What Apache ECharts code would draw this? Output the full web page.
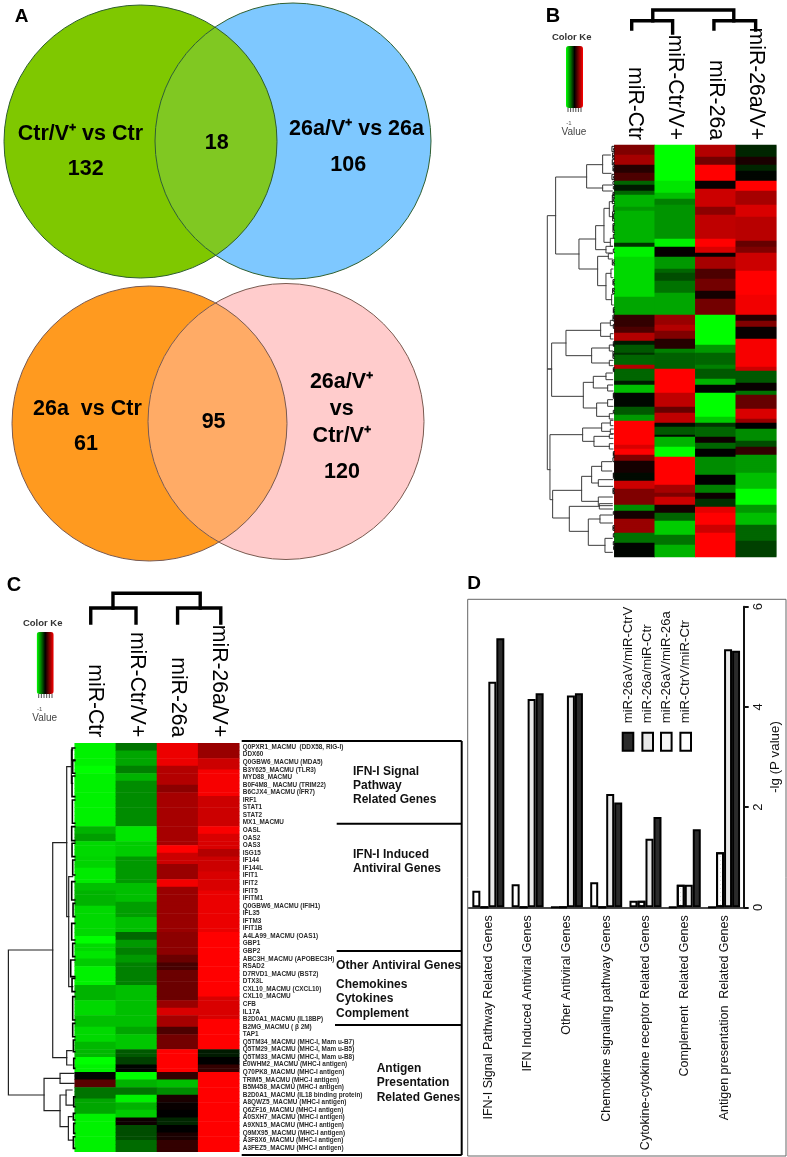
<!DOCTYPE html>
<html>
<head>
<meta charset="utf-8">
<style>html,body{margin:0;padding:0;background:#fff}#c{width:787px;height:1157px}</style>
<script src="https://cdn.jsdelivr.net/npm/echarts@6/dist/echarts.min.js"></script>
</head>
<body>
<div id="c"></div>
<script>
// ---------- DATA ----------
const sampleNames = ['miR-Ctr', 'miR-Ctr/V+', 'miR-26a', 'miR-26a/V+'];
const vennTop = {a: 'Ctr/V⁺ vs Ctr', aOnly: 132, both: 18, b: '26a/V⁺ vs 26a', bOnly: 106};
const vennBottom = {a: '26a  vs Ctr', aOnly: 61, both: 95, b: ['26a/V⁺', 'vs', 'Ctr/V⁺'], bOnly: 120};

// Panel B heat map: run lengths [rows, value] per column (value -1 green .. 0 black .. 1 red)
const heatBCtr = [5,.5,5,.65,4,.15,4,.3,2,-.4,3,-.1,2,-.4,6,-.7,2,-.6,16,-.7,2,-.2,5,-.95,20,-.85,9,-.65,
  6,.2,3,.3,4,.7,2,-.1,4,-.35,1,-.2,5,-.4,2,.7,6,-.4,2,-.1,4,-.75,7,-.03,4,-.35,3,-.6,12,1,2,.85,3,1,
  3,.5,6,.08,4,-.04,4,.8,8,.5,3,-.55,4,.08,7,.6,5,-.45,7,-.02];
const heatBCtrV = [18,-1,6,-.9,3,-.75,3,-.5,17,-.58,4,-.95,5,.02,6,-.6,2,-.4,4,-.3,6,-.45,11,-.65,
  5,.6,3,.7,4,.5,5,.15,2,-.5,8,-.38,12,1,7,.75,3,.4,5,.75,2,-.05,4,-.35,1,-.05,5,-.7,5,-1,14,1,
  4,.65,2,.5,4,.8,4,.08,4,-.4,7,-.8,5,-.45,6,-.7];
const heatB26a = [6,.7,4,.45,8,1,4,.03,9,.8,4,.55,12,.75,4,1,3,.85,2,.02,6,.65,5,.3,6,.45,4,.08,8,.45,
  15,-1,4,-.6,6,-.4,2,-.5,5,-.35,3,-.7,4,-.02,12,-1,3,-.8,2,-.2,5,-.4,3,.05,3,-.4,4,0,9,-.55,5,0,
  4,-.5,3,.05,4,-.2,3,.9,6,1,4,.8,12,1];
const heatB26aV = [6,-.15,4,.1,3,-.15,5,-.02,5,1,7,.65,6,.85,12,.72,3,.4,3,.5,9,.8,12,1,10,.95,
  3,.15,3,.5,6,.03,14,.97,2,.8,6,-.35,4,.03,2,-.45,7,.4,5,.85,2,.6,3,0,6,-.55,3,-.3,4,.2,9,-.6,
  8,-.75,8,-1,4,-.6,6,-.75,8,-.4,8,-.25];

// Panel C heat map: run lengths [half gene rows, value]
const heatCCtr = [6,-.95,2,-1,14,-.95,2,-.7,2,-.62,4,-.85,3,-.83,4,-.92,2,-.75,4,-.7,8,-.85,2,-1,2,-.85,2,-.9,2,-.8,
  5,-.95,4,-.7,4,-.85,3,-.75,4,-.85,4,-.72,2,-1,2,-.95,2,-.02,2,.35,3,-.45,4,-.65,10,-.95];
const heatCCtrV = [2,-.45,4,-.65,2,-.5,2,-.7,12,-.55,4,-.9,4,-.8,7,-.6,5,-.75,4,-.62,4,-.75,2,-.4,2,-.6,2,-.5,2,-.6,
  6,-.5,11,-.75,2,-.65,4,-.78,2,-.35,2,-.25,2,-.02,2,-1,2,-.7,2,-.45,2,-.95,2,-.7,2,-.8,2,.05,4,-.3,3,-.42];
const heatC26a = [6,.93,5,.7,2,.55,14,.65,2,1,3,.8,4,.6,2,.95,12,.6,6,.55,2,.42,2,.28,8,.42,2,.6,2,.85,3,.65,2,.3,4,.45,
  6,1,2,.2,2,-.75,2,-.55,2,.1,2,.03,2,0,2,-.15,2,0,2,.1,3,.2];
const heatC26aV = [4,.6,3,.8,7,.97,8,.8,2,.98,4,.85,2,.7,4,.8,3,.85,2,.85,11,.92,17,1,6,.85,8,1,2,-.1,2,0,2,.2,21,1];

const geneNames = ['Q0PXR1_MACMU  (DDX58, RIG-I)','DDX60','Q0GBW6_MACMU (MDA5)','B3Y625_MACMU (TLR3)','MYD88_MACMU',
  'B0F4M8_ MACMU (TRIM22)','B6CJX4_MACMU (IFR7)','IRF1','STAT1','STAT2','MX1_MACMU','OASL','OAS2','OAS3','ISG15','IF144','IF144L',
  'IFIT1','IFIT2','IFIT5','IFITM1','Q0GBW6_MACMU (IFIH1)','IFL35','IFTM3','IFIT1B','A4LA99_MACMU (OAS1)','GBP1','GBP2',
  'ABC3H_MACMU (APOBEC3H)','RSAD2','D7RVD1_MACMU (BST2)','DTX3L','CXL10_MACMU (CXCL10)','CXL10_MACMU','CFB','IL17A',
  'B2D0A1_MACMU (IL18BP)','B2MG_MACMU ( β 2M)','TAP1','Q5TM34_MACMU (MHC-I, Mam u-B7)','Q5TM29_MACMU (MHC-I, Mam u-B5)',
  'Q5TM33_MACMU (MHC-I, Mam u-B8)','E0WHM2_MACMU (MHC-I antigen)','Q70PK8_MACMU (MHC-I antigen)','TRIM5_MACMU (MHC-I antigen)',
  'B5M458_MACMU (MHC-I antigen)','B2D0A1_MACMU (IL18 binding protein)','A8QWZ5_MACMU (MHC-I antigen)','Q6ZF16_MACMU (MHC-I antigen)',
  'A0SXH7_MACMU (MHC-I antigen)','A9XN15_MACMU (MHC-I antigen)','Q9MX95_MACMU (MHC-I antigen)','A3F8X6_MACMU (MHC-I antigen)',
  'A3FEZ5_MACMU (MHC-I antigen)'];

// Dendrogram merges: [height, leafA, heightA, leafB, heightB]
const treeB = [[201,212,176,974,193],[201,672,188,672,188],[176,96,83,327,106],[83,59,35,129,35],[35,30,12,85,10],[35,120,6,138,6],
  [106,282,56,372,50],[56,242,31,314,25],[31,190,15,292,12],[25,304,6,324,6],[15,170,5,215,6],[12,280,4,304,5],[50,334,18,422,25],
  [18,326,5,342,6],[25,385,10,464,8],[10,372,4,398,4],[8,448,3,480,3],[188,594,145,754,93],[145,556,41,632,68],[41,534,12,574,12],
  [12,526,4,542,4],[12,566,4,582,4],[68,609,15,654,15],[15,600,5,618,5],[15,646,4,662,4],[93,712,63,789,53],[63,694,25,729,20],
  [25,684,6,704,5],[20,720,5,738,4],[53,774,20,814,15],[20,764,5,784,4],[15,806,4,822,4],[193,869,95,1064,185],[95,849,38,889,61],
  [38,834,12,859,12],[12,826,4,842,4],[12,852,3,866,3],[61,874,15,904,15],[15,868,4,880,4],[15,896,4,912,4],[185,1036,98,1119,135],
  [98,994,68,1069,48],[68,964,38,1014,48],[38,950,8,978,8],[48,1004,5,1024,5],[48,1056,6,1082,6],[135,1084,45,1159,78],
  [45,1076,6,1092,6],[78,1122,43,1201,28],[43,1110,6,1134,6],[28,1180,6,1222,6]];
const tuftsB = [[7,4,20],[5,24,40],[6,44,60],[4,64,78],[7,88,104],[4,110,118],[3,124,132],[4,142,158],[6,150,176],[3,182,198],[5,200,228],
  [4,236,262],[3,268,280],[3,312,322],[6,345,360],[4,404,420],[5,430,445],[3,488,504],[4,510,528],[3,538,550],[3,590,604],[4,620,640],
  [3,668,680],[3,744,760],[3,796,804],[3,920,934],[4,938,950],[3,984,1000],[4,1030,1046],[3,1100,1108],[4,1142,1156],[3,1166,1176],[3,1190,1200],
  [2,10,16],[2,30,36],[2,52,58],[2,70,76],[2,94,100],[2,146,152],[2,160,170],[2,206,222],[2,240,256],[2,350,356],[2,408,416],[2,434,440],
  [2,494,500],[2,514,522],[2,596,602],[2,626,634],[2,672,676],[2,748,756],[2,924,930],[2,986,996],[2,1034,1042],[2,1146,1152],[2,1204,1214]];
const treeC = [[199,620,66,1055,92],[66,298,24,943,24],[24,70,10,520,18],[18,400,6,730,6],[24,922,8,965,8],[92,1005,44,1102,44],
  [44,990,2,1020,2],[44,1055,26,1150,19],[26,1040,8,1085,4],[19,1120,8,1190,6],[10,20,6,120,6]];
const tuftsC = [[8,14,50],[6,52,90],[8,98,160],[7,170,240],[9,250,292],[8,300,340],[6,350,395],[9,415,470],[5,480,520],[9,540,590],
  [6,600,640],[12,650,700],[8,705,745],[6,760,830],[6,840,880],[4,890,925],[3,945,975],[3,1060,1090],[4,1110,1130],[3,1140,1170],[4,1180,1215]];
// Sample-tree merges: [height, colA, heightA, colB, heightB]
const topTreeB = [[25,.95,14.3,2.95,14.3],[14.3,.43,6,1.44,2],[14.3,2.46,6,3.49,5]];
const topTreeC = [[31.7,.93,17,3.05,17],[17,.39,2,1.49,2],[17,2.5,2,3.55,2]];

// Panel D
const pathwayNames = ['IFN-I Signal Pathway Related Genes','IFN Induced Antiviral Genes','Other Antiviral Genes','Chemokine signaling pathway Genes',
  'Cytokine-cytokine receptor Related Genes','Complement  Related Genes','Antigen presentation  Related Genes'];
const seriesCtrV = [.33,.46,0,.5,.13,0,0];
const series26aV26a = [0,0,0,0,.13,.45,1.1];
const series26aCtr = [4.5,4.16,4.23,2.26,1.37,.45,5.15];
const series26aVCtrV = [5.37,4.27,4.27,2.09,1.8,1.56,5.12];
const valueTicks = {min: 0, max: 6, step: 2};
const comparisonNames = ['miR-26aV/miR-CtrV','miR-26a/miR-Ctr','miR-26aV/miR-26a','miR-CtrV/miR-Ctr'];

// ---------- BUILD ----------
const FONT = '"Liberation Sans", Arial, sans-serif';
function expand(runs){const o=[];for(let i=0;i<runs.length;i+=2)for(let k=0;k<runs[i];k++)o.push(runs[i+1]);return o;}
function cells(cols,n){const d=[];cols.forEach((c,x)=>{const v=expand(c);for(let r=0;r<n;r++)d.push([x,r,v[Math.min(r,v.length-1)]]);});return d;}
function idx(n){return Array.from({length:n},(_,i)=>String(i));}
function brackets(list){
  return list.map(m=>({coords:[[m[2],m[1]],[m[0],m[1]],[m[0],m[3]],[m[4],m[3]]]}));
}
function tuftLines(tufts){
  return tufts.map(m=>({coords:[[0,m[1]],[m[0],m[1]],[m[0],m[2]],[0,m[2]]]}));
}
function topBrackets(list){
  return list.map(m=>({coords:[[m[1],m[2]],[m[1],m[0]],[m[3],m[0]],[m[3],m[4]]]}));
}
const hiddenValue=(o)=>Object.assign({type:'value',show:false,scale:false,splitLine:{show:false}},o);

// layout boxes
const BOX_B={left:614.3,top:145,width:162,height:412};
const BOX_C={left:74.7,top:743.3,width:164.6,height:408.4};
const grids=[
  {left:0,top:0,width:787,height:1157},                // 0 venn
  BOX_B,                                               // 1
  {left:BOX_B.left-80,top:BOX_B.top,width:80,height:BOX_B.height}, // 2
  {left:BOX_B.left,top:5,width:BOX_B.width,height:30}, // 3
  BOX_C,                                               // 4
  {left:BOX_C.left-73.3,top:BOX_C.top,width:73.3,height:BOX_C.height}, // 5
  {left:BOX_C.left,top:585,width:BOX_C.width,height:40}, // 6
  BOX_C,                                               // 7 gene labels
  {left:468.7,top:606.7,width:275,height:300.6}        // 8 bars
];
const colAxis=(g,margin,size)=>({type:'category',gridIndex:g,position:'top',data:sampleNames,axisLine:{show:false},axisTick:{show:false},
  axisLabel:{rotate:90,fontSize:size,fontFamily:FONT,color:'#000',margin:margin,interval:0}});
const xAxes=[
  hiddenValue({gridIndex:0,min:0,max:787}),
  colAxis(1,5,21.2),
  hiddenValue({gridIndex:2,min:0,max:240,inverse:true}),
  hiddenValue({gridIndex:3,min:0,max:4}),
  colAxis(4,6,21.2),
  hiddenValue({gridIndex:5,min:0,max:220,inverse:true}),
  hiddenValue({gridIndex:6,min:0,max:4}),
  hiddenValue({gridIndex:7,min:0,max:1}),
  {type:'category',gridIndex:8,data:pathwayNames,axisLine:{lineStyle:{color:'#111',width:1.5}},
   axisTick:{alignWithLabel:true,length:6,lineStyle:{color:'#111',width:2}},
   axisLabel:{rotate:90,interval:0,fontSize:12.5,fontFamily:FONT,color:'#111',margin:8}}
];
const rowAxis=(g,n)=>({type:'category',gridIndex:g,show:false,inverse:true,data:idx(n)});
const yAxes=[
  hiddenValue({gridIndex:0,min:0,max:1157,inverse:true}),
  rowAxis(1,206),
  hiddenValue({gridIndex:2,min:0,max:1236,inverse:true}),
  hiddenValue({gridIndex:3,min:0,max:30}),
  rowAxis(4,108),
  hiddenValue({gridIndex:5,min:0,max:1225,inverse:true}),
  hiddenValue({gridIndex:6,min:0,max:40}),
  {type:'category',gridIndex:7,position:'right',inverse:true,data:geneNames,axisLine:{show:false},axisTick:{show:false},
   axisLabel:{interval:0,fontSize:6.4,fontWeight:'bold',fontFamily:FONT,color:'#2b2b2b',margin:3.5,hideOverlap:false}},
  {type:'value',gridIndex:8,position:'right',min:valueTicks.min,max:valueTicks.max,interval:valueTicks.step,splitLine:{show:false},
   axisLine:{show:true,lineStyle:{color:'#111',width:2}},axisTick:{show:true,length:5,lineStyle:{color:'#111',width:2}},
   axisLabel:{rotate:90,fontSize:13,fontFamily:FONT,color:'#111',margin:8},
   name:'-lg (P value)',nameLocation:'middle',nameRotate:90,nameGap:25,nameTextStyle:{fontSize:13.3,fontFamily:FONT,color:'#111'}}
];

const vennGeom=[
  {a:[140.5,141.5,136.5],b:[293,141,138],ca:'#7fc800',cb:'#7ec8ff',lens:'#80c822',stroke:'#2f5f30'},
  {a:[149.5,423.5,137.5],b:[286,421.5,138],ca:'#ff9a1f',cb:'#ffcccc',lens:'#ffab66',stroke:'#7a5a50'}
];
function lensPoints(a,b){
  const dx=b[0]-a[0],dy=b[1]-a[1],d=Math.hypot(dx,dy),base=Math.atan2(dy,dx);
  const pa=Math.acos((d*d+a[2]*a[2]-b[2]*b[2])/(2*d*a[2]));
  const pb=Math.acos((d*d+b[2]*b[2]-a[2]*a[2])/(2*d*b[2]));
  const pts=[];
  for(let i=0;i<=60;i++){const t=base-pa+2*pa*i/60;pts.push([a[0]+a[2]*Math.cos(t),a[1]+a[2]*Math.sin(t)]);}
  for(let i=0;i<=60;i++){const t=base+Math.PI-pb+2*pb*i/60;pts.push([b[0]+b[2]*Math.cos(t),b[1]+b[2]*Math.sin(t)]);}
  return pts;
}
const vennSeries={type:'custom',xAxisIndex:0,yAxisIndex:0,silent:true,clip:false,z:1,
  data:vennGeom.map((g,i)=>[g.a[0],g.a[1],i]),encode:{x:0,y:1},
  renderItem(params,api){
    const g=vennGeom[api.value(2)];
    const circ=(c,fill,stroke)=>{const p=api.coord([c[0],c[1]]);return {type:'circle',silent:true,
      shape:{cx:p[0],cy:p[1],r:api.size([c[2],c[2]])[0]},style:{fill:fill,stroke:stroke,lineWidth:stroke==='none'?0:1}};};
    return {type:'group',children:[
      circ(g.a,g.ca,'none'),circ(g.b,g.cb,'none'),
      {type:'polygon',silent:true,shape:{points:lensPoints(g.a,g.b).map(p=>api.coord(p))},style:{fill:g.lens}},
      circ(g.a,'rgba(0,0,0,0)',g.stroke),circ(g.b,'rgba(0,0,0,0)',g.stroke)
    ]};
  }};
const heat=(g,cols,n)=>({type:'heatmap',xAxisIndex:g,yAxisIndex:g,data:cells(cols,n),silent:true,progressive:0,emphasis:{disabled:true},itemStyle:{borderWidth:0}});
const treeLines=(g,data,color,width)=>({type:'lines',coordinateSystem:'cartesian2d',xAxisIndex:g,yAxisIndex:g,polyline:true,silent:true,
  data:data,lineStyle:{color:color,width:width,opacity:1,cap:'square',join:'miter'},effect:{show:false}});

const barSeries=[
  {name:comparisonNames[3],data:seriesCtrV,itemStyle:{color:'#ffffff'}},
  {name:comparisonNames[2],data:series26aV26a,itemStyle:{color:'#ffffff',decal:{symbol:'rect',symbolSize:.5,dashArrayX:[1,3],dashArrayY:[1,3],color:'#777',rotation:0}}},
  {name:comparisonNames[1],data:series26aCtr,itemStyle:{color:'#e9e9e9'}},
  {name:comparisonNames[0],data:series26aVCtrV,itemStyle:{color:'#2b2b2b'}}
].map(s=>{s.type='bar';s.xAxisIndex=8;s.yAxisIndex=8;s.barWidth=8;s.barGap=0;s.silent=true;s.itemStyle.borderColor='#000';s.itemStyle.borderWidth=2;return s;});

// text and decoration
const T=(text,x,y,size,opt)=>Object.assign({type:'text',z:100,x:x,y:y,silent:true,style:Object.assign({text:text,font:(opt&&opt.weight||'bold')+' '+size+'px '+FONT,
  fill:(opt&&opt.fill)||'#000',align:(opt&&opt.align)||'center',verticalAlign:'middle',textAlign:(opt&&opt.align)||'center',textVerticalAlign:'middle'})},opt&&opt.rot?{rotation:opt.rot}:{});
const L=(x1,y1,x2,y2,w,c)=>({type:'line',z:100,silent:true,shape:{x1,y1,x2,y2},style:{stroke:c||'#000',lineWidth:w}});
const ANN={align:'left',fill:'#111'};
const keyDeco=(cx,kx0,kx1,y)=>{
  const out=[T('Color Ke',cx,y-9,9.5,{fill:'#333'}),T('-1',kx0+3,y+77,6,{fill:'#555',weight:'normal'}),T('Value',kx0+8,y+86,10,{fill:'#444',weight:'normal'})];
  for(let i=0;i<6;i++){const x=kx0+2+i*(kx1-kx0-4)/5;out.push(L(x,y+62,x,y+66,.8,'#222'));}
  return out;
};
const graphics=[
  T('A',21.5,17,19),T('B',553,16,20),T('C',14,585,20),T('D',474,584,19),
  T(vennTop.a,80.4,133.7,21.5),T(String(vennTop.aOnly),85.7,169,21.5),T(String(vennTop.both),216.7,142.9,21.5),
  T(vennTop.b,356.5,129.3,21.5),T(String(vennTop.bOnly),348.3,164.6,21.5),
  T(vennBottom.a,87.4,408.8,21.5),T(String(vennBottom.aOnly),86,443.8,21.5),T(String(vennBottom.both),213.6,422,21.5),
  T(vennBottom.b[0],341.5,382,21.5),T(vennBottom.b[1],341.8,409.5,21.5),T(vennBottom.b[2],341.8,435.7,21.5),T(String(vennBottom.bOnly),342,472,21.5),
  // panel C bracket box
  L(241.7,741,461.7,741,2),L(461.7,741,461.7,1155,2),L(241.7,1155,461.7,1155,2),
  L(336.7,823.7,461.7,823.7,2),L(336.7,951,461.7,951,2),L(335,1025,461.7,1025,2),
  T('IFN-I Signal',353,771.7,12,ANN),T('Pathway',353,785.7,12,ANN),T('Related Genes',353,800,12,ANN),
  T('IFN-I Induced',353,855,12,ANN),T('Antiviral Genes',353,869,12,ANN),
  T('Other Antiviral Genes',336,965.7,12.2,ANN),T('Chemokines',336,984.3,12,ANN),T('Cytokines',336,999,12,ANN),T('Complement',336,1013.3,12,ANN),
  T('Antigen',376.7,1068.3,12,ANN),T('Presentation',376.7,1082.7,12,ANN),T('Related Genes',376.7,1097.3,12,ANN),
  // panel D frame
  {type:'rect',silent:true,z:-1,shape:{x:467.7,y:599.3,width:318.3,height:556.7},style:{fill:'none',stroke:'#666',lineWidth:1}},
  ...keyDeco(571.7,566,583,46),...keyDeco(42.7,36.7,54,632)
];
// Panel D legend (rotated, drawn from the series list)
const legendX=[628,647.7,666.3,685.7];
comparisonNames.forEach((n,i)=>{
  const s=barSeries[3-i];
  graphics.push({type:'rect',z:100,silent:true,shape:{x:legendX[i]-5.3,y:732.7,width:10.6,height:18},
    style:{fill:i===2?'#f6f6f6':s.itemStyle.color,stroke:'#000',lineWidth:2}});
  graphics.push({type:'text',z:100,x:legendX[i],y:723.3,rotation:Math.PI/2,silent:true,
    style:{text:n,font:'13.2px '+FONT,fill:'#111',align:'left',verticalAlign:'middle',textAlign:'left',textVerticalAlign:'middle'}});
});

const keyColors=['#00ff00','#000000','#ff0000'];
const vmBase={type:'continuous',min:-1,max:1,orient:'horizontal',calculable:false,text:null,padding:0,showLabel:false,
  itemWidth:62,itemHeight:17,inRange:{color:keyColors},dimension:2,silent:true,hoverLink:false,realtime:false,
  textStyle:{fontSize:0}};

const option={
  animation:false,backgroundColor:'#fff',tooltip:{show:false},
  grid:grids,xAxis:xAxes,yAxis:yAxes,
  visualMap:[
    Object.assign({},vmBase,{seriesIndex:1,left:566,top:46}),
    Object.assign({},vmBase,{seriesIndex:4,left:36.7,top:632})
  ],
  series:[
    vennSeries,                                                     //0
    heat(1,[heatBCtr,heatBCtrV,heatB26a,heatB26aV],206),            //1
    treeLines(2,brackets(treeB),'#3c3c3c',1),                       //2
    treeLines(3,topBrackets(topTreeB),'#000',3.4),                  //3
    heat(4,[heatCCtr,heatCCtrV,heatC26a,heatC26aV],108),            //4
    treeLines(5,brackets(treeC),'#222',1.2),                        //5
    treeLines(6,topBrackets(topTreeC),'#000',3.4),                  //6
    {type:'scatter',xAxisIndex:7,yAxisIndex:7,data:[],silent:true}, //7
    ...barSeries,
    treeLines(2,tuftLines(tuftsB),'#111',1),
    treeLines(5,tuftLines(tuftsC),'#000',1.6)
  ],
  graphic:{elements:graphics}
};
const chart=echarts.init(document.getElementById('c'),null,{renderer:'canvas'});
chart.setOption(option);
</script>
</body>
</html>
